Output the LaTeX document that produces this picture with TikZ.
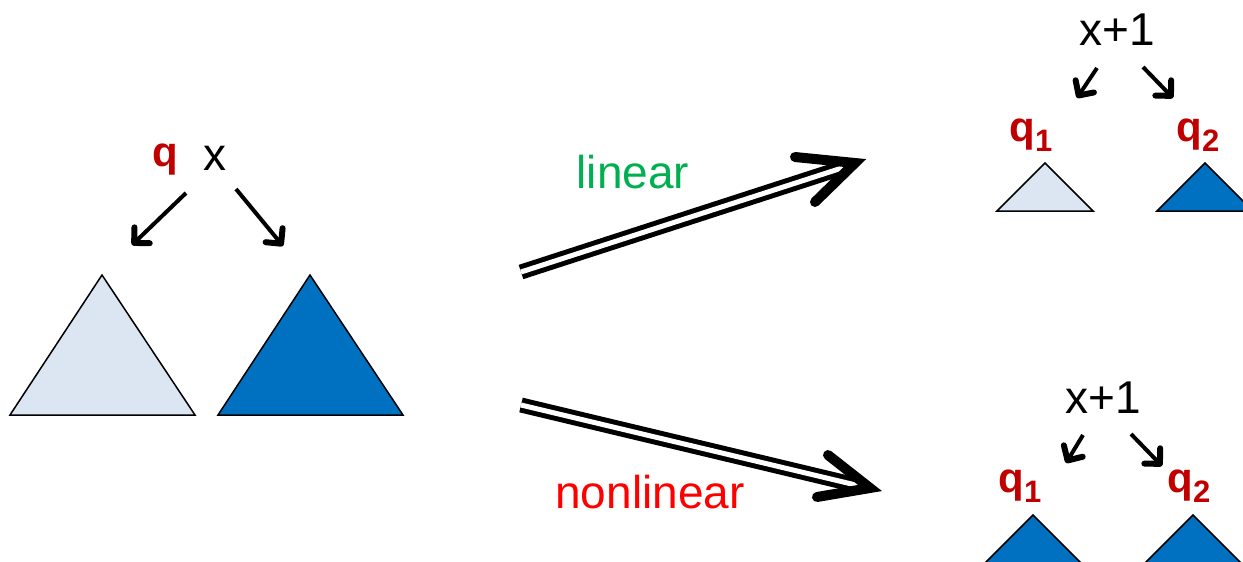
\documentclass[tikz,border=0pt]{standalone}
\usepackage{fontspec}
\setmainfont{Liberation Sans}
\usetikzlibrary{arrows.meta}
\definecolor{qred}{HTML}{C00000}
\definecolor{lgreen}{HTML}{00B050}
\definecolor{nlred}{HTML}{FF0000}
\definecolor{lightblue}{HTML}{DCE6F2}
\definecolor{darkblue}{HTML}{0070C0}
\newcommand{\qsub}[1]{\textbf{q}\raisebox{-0.24em}{\fontsize{31}{33}\selectfont\bfseries #1}}
\tikzset{
  lbl/.style={font=\fontsize{46}{50}\selectfont, inner sep=0pt},
  qlbl/.style={font=\fontsize{42}{46}\selectfont\bfseries, text=qred, inner sep=0pt},
  ptr/.style={line width=4pt, -{Straight Barb[length=11pt,width=22pt,line width=6pt,round]}},
  ltri/.style={draw=black, line width=1.5pt, fill=lightblue, line join=miter},
  dtri/.style={draw=black, line width=1.5pt, fill=darkblue, line join=miter},
  dbl/.style={line width=5pt, double=white, double distance=5pt},
  head/.style={line width=10pt, line cap=round, line join=miter},
}
\begin{document}
\begin{tikzpicture}[x=1pt,y=-1pt]
\useasboundingbox (0,0) rectangle (1243,562);
\clip (0,0) rectangle (1243,562);
% left tree
\node[qlbl] (q) at (165,160) {q};
\node[lbl] (x) at (215,158) {x};
\coordinate (la0) at (186,193); \coordinate (la1) at (132,245);
\coordinate (ra0) at (236,189); \coordinate (ra1) at (283,246);
\draw[ptr] (la0) -- (la1);
\draw[ptr] (ra0) -- (ra1);
\draw[ltri] (102,275) -- (195,415) -- (10,415) -- cycle;
\draw[dtri] (310,275) -- (403,415) -- (218,415) -- cycle;
% linear arrow
\coordinate (lin0) at (521,272);
\coordinate (lin1) at (845,167);
\coordinate (lintip) at (855,163);
\draw[dbl] (lin0) -- (lin1);
\draw[head] (795,157) -- (lintip) -- (815,202);
\node[lbl, text=lgreen] (lin) at (633,172) {linear};
% nonlinear arrow
\coordinate (nl0) at (521,405);
\coordinate (nl1) at (860,486);
\coordinate (nltip) at (870,488);
\draw[dbl] (nl0) -- (nl1);
\draw[head] (828,455) -- (nltip) -- (817,497);
\node[lbl, text=nlred] (nl) at (650,492) {nonlinear};
% top right tree
\node[lbl] (x1a) at (1117,30) {x+1};
\coordinate (ta0) at (1097,68); \coordinate (ta1) at (1077,98);
\coordinate (tb0) at (1143,67); \coordinate (tb1) at (1173,98);
\draw[ptr] (ta0) -- (ta1);
\draw[ptr] (tb0) -- (tb1);
\node[qlbl] (q1a) at (1031,135) {\qsub{1}};
\node[qlbl] (q2a) at (1198,135) {\qsub{2}};
\draw[ltri] (1045,163) -- (1093,211) -- (997,211) -- cycle;
\draw[dtri] (1205,163) -- (1253,211) -- (1157,211) -- cycle;
% bottom right tree
\node[lbl] (x1b) at (1103,398) {x+1};
\coordinate (ba0) at (1083,435); \coordinate (ba1) at (1066,463);
\coordinate (bb0) at (1131,434); \coordinate (bb1) at (1162,466);
\draw[ptr] (ba0) -- (ba1);
\draw[ptr] (bb0) -- (bb1);
\node[qlbl] (q1b) at (1020,486) {\qsub{1}};
\node[qlbl] (q2b) at (1189,486) {\qsub{2}};
\draw[dtri] (1033,515) -- (1100,582) -- (966,582) -- cycle;
\draw[dtri] (1193,515) -- (1260,582) -- (1126,582) -- cycle;
\end{tikzpicture}
\end{document}
